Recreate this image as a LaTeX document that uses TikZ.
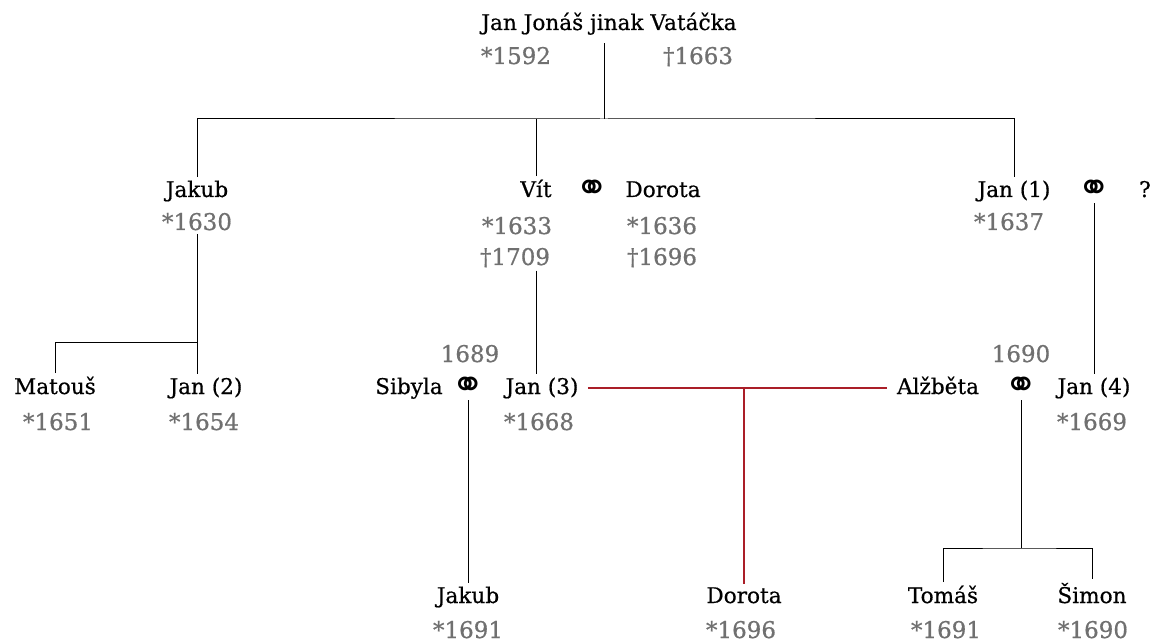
\documentclass[tikz,border=0pt]{standalone}
\usepackage{fontspec}
\setmainfont{DejaVu Serif}[FakeBold=0.6]
\newfontfamily\ringfont{DejaVu Sans}
\definecolor{yeargray}{RGB}{112,112,112}
\definecolor{kinred}{RGB}{170,30,40}
\newcommand{\wed}{{\ringfont\bfseries ⚭}}

\begin{document}
\begin{tikzpicture}[x=1pt,y=-1pt,line width=1pt,
        person/.style={anchor=base,inner sep=3pt,font=\fontsize{21.6}{24}\selectfont},
        year/.style={person,text=yeargray,font=\fontsize{23}{24}\selectfont},
        ring/.style={anchor=center,inner sep=1pt,font=\fontsize{40}{40}\selectfont},
        kin/.style={draw=kinred,line width=1.3pt}]
        \useasboundingbox (0,0) rectangle (1161,644);
        % first generation
        \node(A0) at (609,30) [person] {Jan Jonáš jinak Vatáčka};
        \node(A0b) at (516,64) [year] {*1592};
        \node(A0d) at (698,64) [year] {†1663};
        % second generation
        \node(B1) at (197,197) [person] {Jakub};
        \node(B1b) at (197,230) [year] {*1630};
        \node(B2) at (536,197) [person] {Vít};
        \node(M1) at (592,191) [ring] {\wed};
        \node(B3) at (663,197) [person] {Dorota};
        \node(B2b) at (517,234) [year] {*1633};
        \node(B2d) at (515,265) [year] {†1709};
        \node(B3b) at (662,234) [year] {*1636};
        \node(B3d) at (662,265) [year] {†1696};
        \node(B4) at (1014,197) [person] {Jan (1)};
        \node(M2) at (1094,191) [ring] {\wed};
        \node(B5) at (1145,197) [person] {?};
        \node(B4b) at (1009,230) [year] {*1637};
        % third generation
        \node(C1) at (55,394) [person] {Matouš};
        \node(C1b) at (58,430) [year] {*1651};
        \node(C2) at (206,394) [person] {Jan (2)};
        \node(C2b) at (204,430) [year] {*1654};
        \node(C3) at (409,394) [person] {Sibyla};
        \node(M3) at (468,388) [ring] {\wed};
        \node(M3y) at (470,362) [year] {1689};
        \node(C4) at (542,394) [person] {Jan (3)};
        \node(C4b) at (539,430) [year] {*1668};
        \node(C5) at (938,394) [person] {Alžběta};
        \node(M4) at (1021,388) [ring] {\wed};
        \node(M4y) at (1021,362) [year] {1690};
        \node(C6) at (1094,394) [person] {Jan (4)};
        \node(C6b) at (1092,430) [year] {*1669};
        % fourth generation
        \node(D1) at (468,603) [person] {Jakub};
        \node(D1b) at (468,638) [year] {*1691};
        \node(D2) at (744,603) [person] {Dorota};
        \node(D2b) at (741,638) [year] {*1696};
        \node(D3) at (943,603) [person] {Tomáš};
        \node(D3b) at (946,638) [year] {*1691};
        \node(D4) at (1092,603) [person] {Šimon};
        \node(D4b) at (1093,638) [year] {*1690};
        \coordinate(J0) at (604,119);
        \coordinate(J1) at (197,342);
        \coordinate(J2) at (1021,548);
        \draw(J0 |- A0b.north) -- (J0);
        \draw(B1.north) |- (J0) -| (B4.north);
        \draw(B2.north) -- (B2.north |- J0);
        \draw(B1b.south) -- (B1b.south |- C2.north);
        \draw(C1.north) |- (J1);
        \draw(B2 |- B2d.south) -- (B2 |- C4.north);
        \draw(M2.south) -- (M2.south |- C6.north);
        \draw(M3.south) -- (M3.south |- D1.north);
        \draw(M4.south) -- (J2);
        \draw(D3.north) |- (J2) -| (D4.north);
        \draw[kin,shorten <=6pt,shorten >=6pt] (C4.east) -- (C4.east -| C5.west);
        \draw[kin] (C4.east -| D2.north) -- (D2.north);
    \end{tikzpicture}
\end{document}
